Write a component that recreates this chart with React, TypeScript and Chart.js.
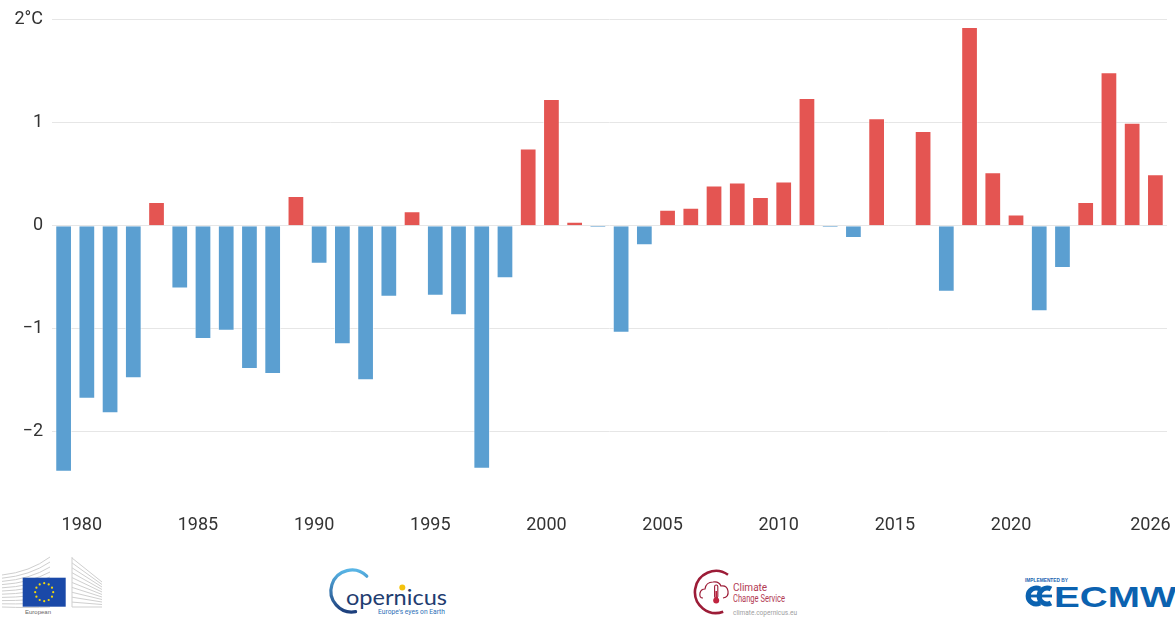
import React, { useEffect, useRef } from 'react';
import { Chart, registerables } from 'chart.js';

Chart.register(...registerables);

// Yearly anomaly (°C), one bar per year
const years = [
  '1979', '1980', '1981', '1982', '1983', '1984', '1985', '1986', '1987', '1988',
  '1989', '1990', '1991', '1992', '1993', '1994', '1995', '1996', '1997', '1998',
  '1999', '2000', '2001', '2002', '2003', '2004', '2005', '2006', '2007', '2008',
  '2009', '2010', '2011', '2012', '2013', '2014', '2015', '2016', '2017', '2018',
  '2019', '2020', '2021', '2022', '2023', '2024', '2025', '2026',
];

const anomalies = [
  -2.39, -1.68, -1.82, -1.48, 0.23, -0.61, -1.1, -1.02, -1.39, -1.44,
  0.29, -0.37, -1.15, -1.5, -0.69, 0.14, -0.68, -0.87, -2.36, -0.51,
  0.75, 1.23, 0.04, -0.02, -1.04, -0.19, 0.155, 0.175, 0.39, 0.42,
  0.28, 0.43, 1.24, -0.02, -0.12, 1.045, 0, 0.92, -0.64, 1.93,
  0.52, 0.11, -0.83, -0.41, 0.23, 1.49, 1.0, 0.5,
];

// Year labels printed under the axis
const shownYearLabels = ['1980', '1985', '1990', '1995', '2000', '2005', '2010', '2015', '2020', '2026'];

// Value axis ticks
const yTickValues = [-2, -1, 0, 1, 2];

const WARM = '#e45552';
const COLD = '#5b9fd1';
const TEXT = '#333333';

Chart.defaults.font.family = 'Roboto, "Noto Sans", sans-serif';

function formatDegrees(value: number): string {
  if (value === 2) return '2°C';
  if (value < 0) return '\u2212' + Math.abs(value);
  return String(value);
}

function Logos() {
  const wingLines = Array.from({ length: 11 }, (_, i) => i);
  const stars = Array.from({ length: 12 }, (_, i) => i);
  return (
    <svg
      width={1175}
      height={77}
      viewBox="0 540 1175 77"
      style={{ position: 'absolute', left: 0, top: 540 }}
    >
      <defs>
        <linearGradient id="copArc" x1="0" y1="0" x2="0" y2="1">
          <stop offset="0" stopColor="#58b5e6" />
          <stop offset="1" stopColor="#1d3f7c" />
        </linearGradient>
      </defs>

      {/* European Commission */}
      {wingLines.map((i) => (
        <path
          key={'l' + i}
          d={`M 2 ${575 + i * 3.2} Q 30 ${572 + i * 3.6} 50 ${557 + i * 5}`}
          stroke="#cfcfcf"
          strokeWidth={1}
          fill="none"
        />
      ))}
      {wingLines.map((i) => (
        <path
          key={'r' + i}
          d={`M 72 ${558 + i * 4.9} L 102 ${582 + i * 2.5}`}
          stroke="#cfcfcf"
          strokeWidth={1}
          fill="none"
        />
      ))}
      <line x1={72} y1={557} x2={72} y2={607} stroke="#cfcfcf" strokeWidth={1} />
      <rect x={22.7} y={577.7} width={43} height={29} fill="#1a49a8" />
      {stars.map((i) => {
        const a = (i / 12) * Math.PI * 2;
        return (
          <circle
            key={'s' + i}
            cx={44.2 + 9 * Math.cos(a)}
            cy={592.2 + 9 * Math.sin(a)}
            r={1.1}
            fill="#f5d90a"
          />
        );
      })}
      <text x={25} y={614} fontSize={6} fill="#666" fontFamily="Liberation Sans, Arial, sans-serif">
        European
      </text>

      {/* Copernicus */}
      <path
        d="M 366.8 576.2 A 21 21 0 1 0 355.6 611.7"
        stroke="url(#copArc)"
        strokeWidth={3.2}
        fill="none"
        strokeLinecap="round"
      />
      <text
        x={346}
        y={605}
        fontSize={22}
        fill="#1f3d70"
        fontFamily="Lato, Roboto, sans-serif"
        textLength={101}
        lengthAdjust="spacingAndGlyphs"
      >
        opernicus
      </text>
      <circle cx={402.3} cy={587.5} r={3} fill="#f4c20d" />
      <text
        x={378}
        y={613.5}
        fontSize={8}
        fill="#2d6fb7"
        fontFamily="Roboto, sans-serif"
        textLength={67}
        lengthAdjust="spacingAndGlyphs"
      >
        Europe's eyes on Earth
      </text>

      {/* Climate Change Service */}
      <path
        d="M 728 574.8 A 21 21 0 1 0 723.2 611.7"
        stroke="#9c1c37"
        strokeWidth={2.6}
        fill="none"
      />
      <path
        d="M 703 598 Q 699 598 700 593 Q 701 589 705 589 Q 706 582 713 582 Q 719 581 721 586 Q 727 585 728 591 Q 729 597 723 598"
        stroke="#9c1c37"
        strokeWidth={1.2}
        fill="none"
      />
      <rect x={714.6} y={585} width={3.2} height={13} rx={1.6} fill="none" stroke="#9c1c37" strokeWidth={1.1} />
      <rect x={715.4} y={591} width={1.6} height={8} fill="#c0243f" />
      <circle cx={716.2} cy={600.5} r={3} fill="#c0243f" />
      <text x={733} y={591} fontSize={10} fill="#b23a54" fontFamily="Roboto, sans-serif">
        Climate
      </text>
      <text
        x={733}
        y={601.5}
        fontSize={10}
        fill="#b23a54"
        fontFamily="Roboto, sans-serif"
        textLength={52}
        lengthAdjust="spacingAndGlyphs"
      >
        Change Service
      </text>
      <text
        x={733}
        y={614.5}
        fontSize={7.5}
        fill="#a0a0a0"
        fontFamily="Roboto, sans-serif"
        textLength={64}
        lengthAdjust="spacingAndGlyphs"
      >
        climate.copernicus.eu
      </text>

      {/* ECMWF */}
      <text
        x={1025}
        y={581.5}
        fontSize={5.5}
        fontWeight="bold"
        fill="#1b64b2"
        fontFamily="Liberation Sans, Arial, sans-serif"
        textLength={43}
        lengthAdjust="spacingAndGlyphs"
      >
        IMPLEMENTED BY
      </text>
      <path d="M 1040 589 A 8 8 0 1 0 1040 603" stroke="#0b62b0" strokeWidth={5} fill="none" />
      <path d="M 1051 589 A 8 8 0 1 0 1051 603" stroke="#0b62b0" strokeWidth={5} fill="none" />
      <rect x={1026} y={594.6} width={26} height={2.8} fill="#0b62b0" />
      <text
        x={1054}
        y={607}
        fontSize={30}
        fontWeight="bold"
        fill="#0b62b0"
        fontFamily="Liberation Sans, Arial, sans-serif"
        textLength={146}
        lengthAdjust="spacingAndGlyphs"
      >
        ECMWF
      </text>
    </svg>
  );
}

export default function App() {
  const canvasRef = useRef<HTMLCanvasElement>(null);

  useEffect(() => {
    document.body.style.margin = '0';
    const canvas = canvasRef.current;
    if (!canvas) return;

    const chart = new Chart(canvas, {
      type: 'bar',
      data: {
        labels: years,
        datasets: [
          {
            data: anomalies,
            backgroundColor: anomalies.map((v) => (v >= 0 ? WARM : COLD)),
            borderColor: 'rgba(255,255,255,0.55)',
            borderWidth: 1,
            barPercentage: 0.72,
            categoryPercentage: 1,
          },
        ],
      },
      options: {
        responsive: false,
        animation: false,
        devicePixelRatio: 1,
        layout: { padding: { top: 19.3, right: 8, left: 0, bottom: 0 } },
        plugins: {
          legend: { display: false },
          tooltip: { enabled: false },
        },
        scales: {
          x: {
            grid: { display: false },
            border: { display: false },
            ticks: {
              autoSkip: false,
              maxRotation: 0,
              minRotation: 0,
              labelOffset: -5,
              padding: 23,
              color: TEXT,
              font: { size: 18 },
              callback: (_v: any, idx: number) =>
                shownYearLabels.includes(years[idx]) ? years[idx] : '',
            },
            afterFit: (scale: any) => {
              scale.height = 56.8;
              scale.paddingLeft = 0;
              scale.paddingRight = 0;
            },
          },
          y: {
            min: -2.5,
            max: 2,
            bounds: 'data',
            grid: { color: '#e6e6e6', lineWidth: 1, drawTicks: false },
            border: { display: false },
            afterBuildTicks: (scale: any) => {
              scale.ticks = yTickValues.map((value) => ({ value }));
            },
            ticks: {
              padding: 9,
              color: TEXT,
              font: { size: 18 },
              callback: (v: any) => formatDegrees(Number(v)),
            },
            afterFit: (scale: any) => {
              scale.width = 52;
            },
          },
        },
      },
    } as any);

    return () => chart.destroy();
  }, []);

  return (
    <div
      style={{
        position: 'fixed',
        left: 0,
        top: 0,
        width: 1175,
        height: 617,
        background: '#ffffff',
        overflow: 'hidden',
      }}
    >
      <canvas
        ref={canvasRef}
        width={1175}
        height={540}
        style={{ position: 'absolute', left: 0, top: 0, width: 1175, height: 540 }}
      />
      <Logos />
    </div>
  );
}
